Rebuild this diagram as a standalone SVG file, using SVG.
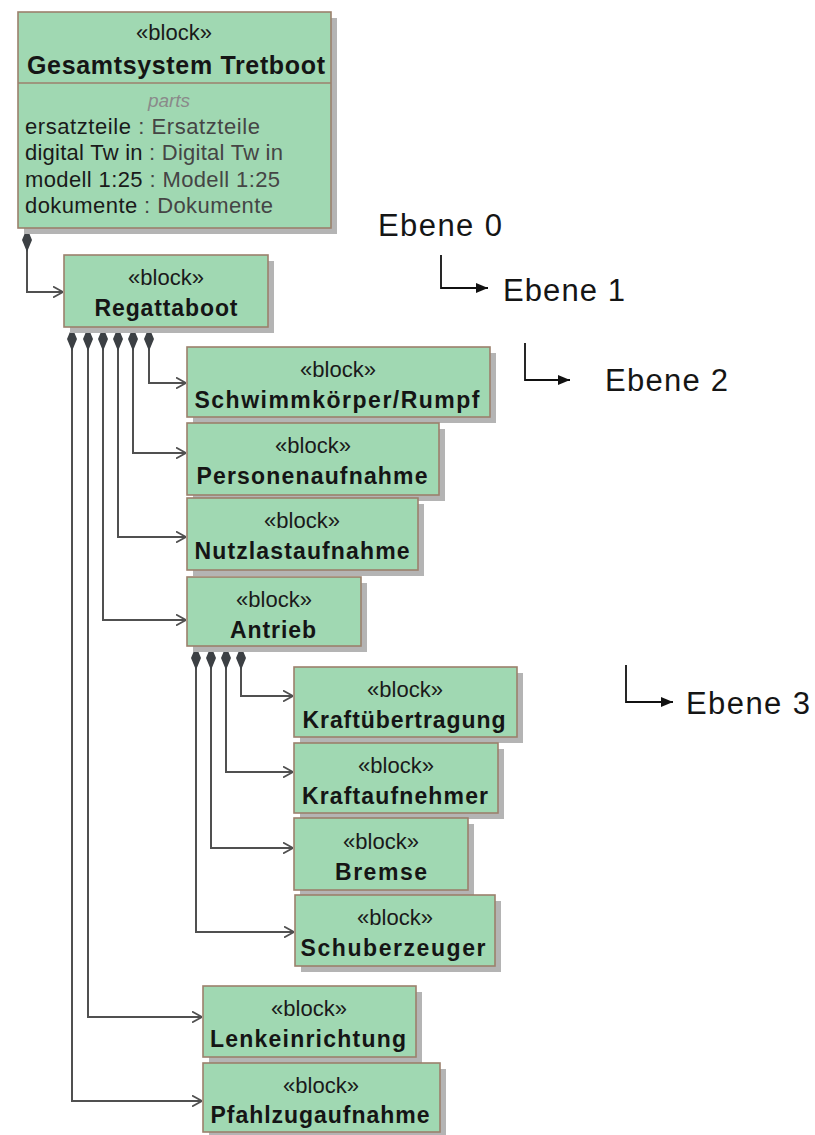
<svg xmlns="http://www.w3.org/2000/svg" width="815" height="1135" viewBox="0 0 815 1135">
<defs>
<style>
.shadow{fill:#b4b4b4}
.box{fill:#a0d8b2;stroke:#9c806c;stroke-width:1.6}
.st{font-family:"Liberation Sans",Arial,sans-serif;font-size:22px;fill:#1a1a1a;text-anchor:middle}
.nm{font-family:"Liberation Sans",Arial,sans-serif;font-size:23px;font-weight:bold;fill:#151515;text-anchor:middle}
.pt{font-family:"Liberation Sans",Arial,sans-serif;font-size:22px;fill:#1a1a1a}
.ty{fill:#454545}
.conn{fill:none;stroke:#505050;stroke-width:2}
.leg{fill:none;stroke:#111;stroke-width:1.8}
.lt{font-family:"Liberation Sans",Arial,sans-serif;font-size:31px;fill:#151515}
</style>
<marker id="open" viewBox="0 0 10 12" refX="10" refY="6" markerWidth="10" markerHeight="12" markerUnits="userSpaceOnUse" orient="auto">
<path d="M0,0.5 L10,6 L0,11.5" fill="none" stroke="#505050" stroke-width="1.8"/>
</marker>
<marker id="dia" viewBox="0 -5 24 10" refX="0" refY="0" markerWidth="24" markerHeight="10" markerUnits="userSpaceOnUse" orient="auto">
<path d="M0,0 L12,-5 L24,0 L12,5 Z" fill="#3c4044"/>
</marker>
<marker id="fill" viewBox="0 0 12 10" refX="12" refY="5" markerWidth="12" markerHeight="10" markerUnits="userSpaceOnUse" orient="auto">
<path d="M0,0 L12,5 L0,10 Z" fill="#111"/>
</marker>
</defs>

<g id="connectors">
<path class="conn" d="M27,228 V292 H63" marker-start="url(#dia)" marker-end="url(#open)"/>
<path class="conn" d="M149,327 V383 H186" marker-start="url(#dia)" marker-end="url(#open)"/>
<path class="conn" d="M133,327 V453 H186" marker-start="url(#dia)" marker-end="url(#open)"/>
<path class="conn" d="M118,327 V537 H186" marker-start="url(#dia)" marker-end="url(#open)"/>
<path class="conn" d="M103,327 V620 H186" marker-start="url(#dia)" marker-end="url(#open)"/>
<path class="conn" d="M88,327 V1017 H202" marker-start="url(#dia)" marker-end="url(#open)"/>
<path class="conn" d="M72,327 V1101 H202" marker-start="url(#dia)" marker-end="url(#open)"/>
<path class="conn" d="M241,646 V696 H293" marker-start="url(#dia)" marker-end="url(#open)"/>
<path class="conn" d="M226,646 V772 H293" marker-start="url(#dia)" marker-end="url(#open)"/>
<path class="conn" d="M211,646 V848 H293" marker-start="url(#dia)" marker-end="url(#open)"/>
<path class="conn" d="M196,646 V932 H294" marker-start="url(#dia)" marker-end="url(#open)"/>
</g>

<g id="gesamtsystem">
<rect class="shadow" x="24" y="18" width="313" height="216"/>
<rect class="box" x="18" y="12" width="313" height="216"/>
<line x1="18" y1="83" x2="331" y2="83" stroke="#9c806c" stroke-width="1.6"/>
<text class="st" x="174" y="40">«block»</text>
<text class="nm" x="176" y="74" textLength="298" style="font-size:25px">Gesamtsystem Tretboot</text>
<text x="169" y="107" text-anchor="middle" font-family="Liberation Sans, Arial, sans-serif" font-size="19" font-style="italic" fill="#8a8a8a">parts</text>
<text class="pt" x="25" y="134" textLength="235">ersatzteile<tspan class="ty"> : Ersatzteile</tspan></text>
<text class="pt" x="25" y="160" textLength="258">digital Tw in<tspan class="ty"> : Digital Tw in</tspan></text>
<text class="pt" x="25" y="187" textLength="255">modell 1:25<tspan class="ty"> : Modell 1:25</tspan></text>
<text class="pt" x="25" y="213" textLength="248">dokumente<tspan class="ty"> : Dokumente</tspan></text>
</g>

<g id="regattaboot">
<rect class="shadow" x="70" y="261" width="204" height="72"/>
<rect class="box" x="64" y="255" width="204" height="72"/>
<text class="st" x="166" y="285">«block»</text>
<text class="nm" x="166" y="316" textLength="143">Regattaboot</text>
</g>

<g id="schwimmkoerper">
<rect class="shadow" x="193" y="353" width="303" height="70"/>
<rect class="box" x="187" y="347" width="303" height="70"/>
<text class="st" x="338" y="377">«block»</text>
<text class="nm" x="337" y="408" textLength="285">Schwimmkörper/Rumpf</text>
</g>

<g id="personenaufnahme">
<rect class="shadow" x="193" y="429" width="252" height="72"/>
<rect class="box" x="187" y="423" width="252" height="72"/>
<text class="st" x="313" y="453">«block»</text>
<text class="nm" x="312" y="484" textLength="231">Personenaufnahme</text>
</g>

<g id="nutzlastaufnahme">
<rect class="shadow" x="193" y="504" width="231" height="72"/>
<rect class="box" x="187" y="498" width="231" height="72"/>
<text class="st" x="302" y="528">«block»</text>
<text class="nm" x="302" y="559" textLength="215">Nutzlastaufnahme</text>
</g>

<g id="antrieb">
<rect class="shadow" x="193" y="583" width="174" height="69"/>
<rect class="box" x="187" y="577" width="174" height="69"/>
<text class="st" x="274" y="607">«block»</text>
<text class="nm" x="273" y="638" textLength="86">Antrieb</text>
</g>

<g id="kraftuebertragung">
<rect class="shadow" x="300" y="673" width="223" height="70"/>
<rect class="box" x="294" y="667" width="223" height="70"/>
<text class="st" x="405" y="697">«block»</text>
<text class="nm" x="404" y="728" textLength="203">Kraftübertragung</text>
</g>

<g id="kraftaufnehmer">
<rect class="shadow" x="300" y="749" width="204" height="70"/>
<rect class="box" x="294" y="743" width="204" height="70"/>
<text class="st" x="396" y="773">«block»</text>
<text class="nm" x="395" y="804" textLength="186">Kraftaufnehmer</text>
</g>

<g id="bremse">
<rect class="shadow" x="300" y="824" width="174" height="72"/>
<rect class="box" x="294" y="818" width="174" height="72"/>
<text class="st" x="381" y="849">«block»</text>
<text class="nm" x="381" y="880" textLength="92">Bremse</text>
</g>

<g id="schuberzeuger">
<rect class="shadow" x="301" y="901" width="200" height="71"/>
<rect class="box" x="295" y="895" width="200" height="71"/>
<text class="st" x="395" y="925">«block»</text>
<text class="nm" x="393" y="956" textLength="185">Schuberzeuger</text>
</g>

<g id="lenkeinrichtung">
<rect class="shadow" x="209" y="992" width="213" height="71"/>
<rect class="box" x="203" y="986" width="213" height="71"/>
<text class="st" x="309" y="1016">«block»</text>
<text class="nm" x="308" y="1047" textLength="196">Lenkeinrichtung</text>
</g>

<g id="pfahlzugaufnahme">
<rect class="shadow" x="209" y="1069" width="237" height="69"/>
<rect class="box" x="203" y="1063" width="237" height="69"/>
<text class="st" x="321" y="1093">«block»</text>
<text class="nm" x="320" y="1123" textLength="219">Pfahlzugaufnahme</text>
</g>

<g id="legend">
<text class="lt" x="378" y="236" textLength="124">Ebene 0</text>
<path class="leg" d="M441,255 V288 H488" marker-end="url(#fill)"/>
<text class="lt" x="503" y="301" textLength="122">Ebene 1</text>
<path class="leg" d="M525,343 V380 H570" marker-end="url(#fill)"/>
<text class="lt" x="605" y="391" textLength="123">Ebene 2</text>
<path class="leg" d="M626,665 V702 H673" marker-end="url(#fill)"/>
<text class="lt" x="686" y="714" textLength="124">Ebene 3</text>
</g>
</svg>
